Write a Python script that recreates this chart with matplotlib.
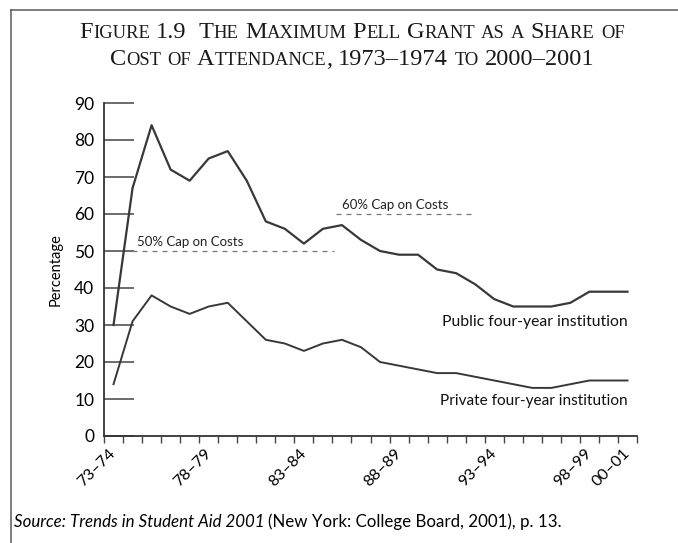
import itertools
import numpy as np
import matplotlib
matplotlib.use('Agg')
import matplotlib.pyplot as plt
from matplotlib.lines import Line2D

SANS = ['Lato', 'DejaVu Sans']
SERIF = ['Liberation Serif', 'DejaVu Serif']

years = ['73–74', '74–75', '75–76', '76–77', '77–78', '78–79', '79–80', '80–81',
         '81–82', '82–83', '83–84', '84–85', '85–86', '86–87', '87–88', '88–89',
         '89–90', '90–91', '91–92', '92–93', '93–94', '94–95', '95–96', '96–97',
         '97–98', '98–99', '99–00', '00–01']
public = [30, 67, 84, 72, 69, 75, 77, 69, 58, 56, 52, 56, 57, 53, 50, 49,
          49, 45, 44, 41, 37, 35, 35, 35, 36, 39, 39, 39]
private = [14, 31, 38, 35, 33, 35, 36, 31, 26, 25, 23, 25, 26, 24, 20, 19,
           18, 17, 17, 16, 15, 14, 13, 13, 14, 15, 15, 15]
shown_labels = ['73–74', '78–79', '83–84', '88–89', '93–94', '98–99', '00–01']

fig = plt.figure(figsize=(6.78, 5.43), dpi=100)
fig.patch.set_facecolor('white')
W, H = 678, 543
ax = fig.add_axes([104/W, 1-436/H, (637-104)/W, (436-103)/H])

x = np.arange(len(years))
ax.plot(x, public, color='#383838', lw=1.6)
ax.plot(x, private, color='#383838', lw=1.4)

# cap lines
ax.plot([0.97, 11.6], [50, 50], color='#777777', lw=0.9, ls=(0, (4, 4)))
ax.plot([11.7, 19.0], [60, 60], color='#777777', lw=0.9, ls=(0, (4, 4)))
ax.text(1.25, 52.3, '50% Cap on Costs', fontsize=9.5, family=SANS, va='center', color='#222222')
ax.text(12.0, 62.4, '60% Cap on Costs', fontsize=9.5, family=SANS, va='center', color='#222222')
ax.text(27.0, 30.8, 'Public four-year institution', fontsize=11.3, family=SANS,
        ha='right', va='center', color='#111111')
ax.text(27.0, 9.5, 'Private four-year institution', fontsize=11.1, family=SANS,
        ha='right', va='center', color='#111111')

ax.set_xlim(-0.5, len(years)-0.5)
ax.set_ylim(0, 90)
ax.set_yticks(range(0, 91, 10))
ax.tick_params(axis='y', direction='in', length=21.5, width=1.1, color='#444444',
               labelsize=12.5, pad=7)
for lab in ax.get_yticklabels():
    lab.set_family(SANS)

ax.set_xticks(np.arange(-0.5, len(years), 1.0))
ax.set_xticklabels([])
ax.tick_params(axis='x', which='major', direction='out', length=5, width=1.0, color='#444444')
ax.set_xticks([years.index(s) for s in shown_labels], minor=True)
ax.set_xticklabels(shown_labels, minor=True, rotation=45, ha='right', va='center',
                   rotation_mode='anchor', family=SANS, fontsize=11.5)
ax.tick_params(axis='x', which='minor', length=0, pad=11)

for s in ['top', 'right']:
    ax.spines[s].set_visible(False)
for s in ['left', 'bottom']:
    ax.spines[s].set_linewidth(1.3)
    ax.spines[s].set_color('#333333')

ax.set_ylabel('Percentage', family=SANS, fontsize=10.5, labelpad=8)

# frame lines
fig.add_artist(Line2D([11/W, 1], [1-10/H, 1-10/H], color='#666666', lw=1.2))
fig.add_artist(Line2D([11/W, 11/W], [0, 1-10/H], color='#666666', lw=1.2))

renderer = fig.canvas.get_renderer()


def text_width(s, size, **kw):
    t = fig.text(0, 0, s, fontsize=size, **kw)
    w = t.get_window_extent(renderer).width
    t.remove()
    return w


def small_caps(line, ybase, size, center=352):
    pieces = []
    pos = 0
    space = text_width('x x', size, family=SERIF) - text_width('xx', size, family=SERIF)
    for word in line.split(' '):
        for small, grp in itertools.groupby(word, key=str.islower):
            s = ''.join(grp).upper()
            fs = size*0.76 if small else size
            pieces.append((s, fs, pos))
            pos += text_width(s, fs, family=SERIF)
        pos += space
    pos -= space
    x0 = center - pos/2
    for s, fs, dx in pieces:
        fig.text((x0+dx)/W, 1-ybase/H, s, fontsize=fs, family=SERIF, va='baseline', color='#1a1a1a')


small_caps('Figure 1.9  The Maximum Pell Grant as a Share of', 38, 17.6)
small_caps('Cost of Attendance, 1973–1974 to 2000–2001', 65, 17.6)

# source line
src_a = 'Source: Trends in Student Aid 2001'
src_b = ' (New York: College Board, 2001), p. 13.'
wa = text_width(src_a + ' ', 12.2, family=SANS, style='italic')
fig.text(14/W, 1-527/H, src_a, fontsize=12.2, family=SANS, style='italic', va='baseline')
fig.text((14+wa)/W, 1-527/H, src_b.strip(), fontsize=12.2, family=SANS, va='baseline')

fig.savefig('out.png', dpi=100)
